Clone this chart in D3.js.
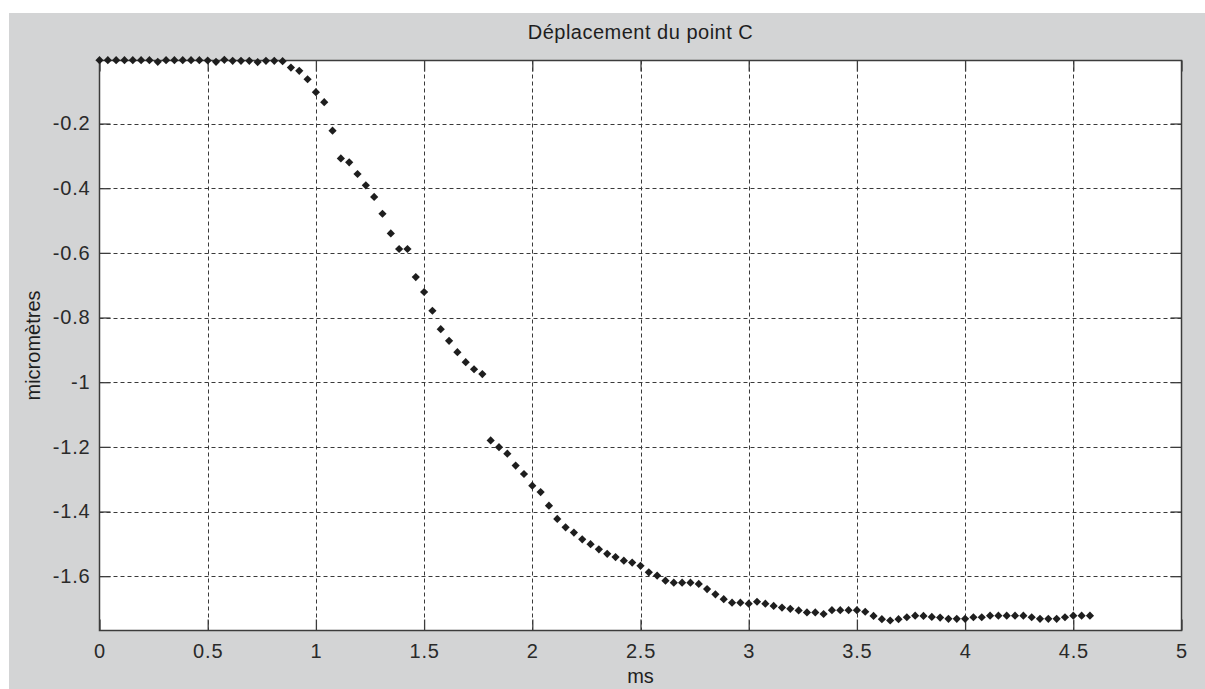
<!DOCTYPE html>
<html><head><meta charset="utf-8">
<script src="https://cdn.jsdelivr.net/npm/d3@7"></script>
<style>html,body{margin:0;padding:0;background:#fff;}svg{display:block;}</style>
</head><body>
<svg id="chart" width="1205" height="689"></svg>
<script>
// ---- data ----
const title = "Déplacement du point C";
const xLabel = "ms";
const yLabel = "micromètres";
const dt = 1 / 26; // sampling interval (ms)
const displacement = [
  -0.004,-0.004,-0.004,-0.004,-0.004,-0.004,-0.004,-0.009,-0.004,-0.004,
  -0.004,-0.004,-0.004,-0.005,-0.009,-0.003,-0.006,-0.006,-0.006,-0.010,
  -0.006,-0.006,-0.007,-0.027,-0.037,-0.063,-0.103,-0.134,-0.222,-0.308,
  -0.320,-0.356,-0.391,-0.427,-0.479,-0.540,-0.588,-0.588,-0.675,-0.721,
  -0.779,-0.836,-0.872,-0.907,-0.938,-0.960,-0.975,-1.180,-1.201,-1.221,
  -1.258,-1.284,-1.320,-1.340,-1.382,-1.423,-1.449,-1.465,-1.486,-1.501,
  -1.517,-1.531,-1.541,-1.552,-1.558,-1.568,-1.588,-1.598,-1.614,-1.620,
  -1.620,-1.620,-1.624,-1.640,-1.656,-1.671,-1.682,-1.682,-1.685,-1.679,
  -1.685,-1.692,-1.697,-1.701,-1.706,-1.712,-1.712,-1.717,-1.705,-1.705,
  -1.705,-1.705,-1.710,-1.723,-1.733,-1.737,-1.733,-1.727,-1.722,-1.723,
  -1.726,-1.728,-1.732,-1.732,-1.732,-1.727,-1.727,-1.722,-1.722,-1.722,
  -1.722,-1.722,-1.727,-1.732,-1.732,-1.732,-1.727,-1.722,-1.722,-1.722
];
const xTicks = [0, 0.5, 1, 1.5, 2, 2.5, 3, 3.5, 4, 4.5, 5];
const xTickLabels = ["0","0.5","1","1.5","2","2.5","3","3.5","4","4.5","5"];
const yTicks = [-1.6, -1.4, -1.2, -1, -0.8, -0.6, -0.4, -0.2];
const yTickLabels = ["-1.6","-1.4","-1.2","-1","-0.8","-0.6","-0.4","-0.2"];
const xDomain = [0, 5];
const yDomain = [-1.768, -0.005];

const points = displacement.map((v, i) => ({t: i * dt, v}));

// ---- layout ----
const svg = d3.select("#chart");
const L = 99.5, R = 1181.5, T = 60.5, B = 630.5;
const x = d3.scaleLinear().domain(xDomain).range([L, R]);
const y = d3.scaleLinear().domain(yDomain).range([B, T]);
const font = "'Liberation Sans', Arial, sans-serif";
const axisCol = "#3c3c3c";

svg.append("rect").attr("x", 9).attr("y", 13).attr("width", 1196).attr("height", 676).attr("fill", "#d3d4d5");
svg.append("rect").attr("x", L).attr("y", T).attr("width", R - L).attr("height", B - T).attr("fill", "#fff");

// gridlines
const grid = svg.append("g").attr("stroke", "#3a3a3a").attr("stroke-width", 1).attr("stroke-dasharray", "4,3");
grid.selectAll("line.gx").data(xTicks.filter(d => d > xDomain[0] && d < xDomain[1])).join("line")
  .attr("x1", d => Math.round(x(d)) + 0.5).attr("x2", d => Math.round(x(d)) + 0.5)
  .attr("y1", T).attr("y2", B);
grid.selectAll("line.gy").data(yTicks).join("line")
  .attr("y1", d => Math.round(y(d)) + 0.5).attr("y2", d => Math.round(y(d)) + 0.5)
  .attr("x1", L).attr("x2", R);

// axes with inward ticks (bottom/left labelled, top/right mirrored)
const tl = 11;
const axB = d3.axisBottom(x).tickValues(xTicks).tickSize(-tl).tickPadding(13).tickFormat((d, i) => xTickLabels[i]);
const axT = d3.axisTop(x).tickValues(xTicks).tickSize(-tl).tickFormat("");
const axL = d3.axisLeft(y).tickValues(yTicks).tickSize(-tl).tickPadding(9).tickFormat((d, i) => yTickLabels[i]);
const axR = d3.axisRight(y).tickValues(yTicks).tickSize(-tl).tickFormat("");

function style(g) {
  g.selectAll("path.domain").remove();
  g.selectAll("line").attr("stroke", axisCol).attr("stroke-width", 1.3);
  g.selectAll("text").attr("fill", "#2a2a2a").style("font-family", font).style("font-size", "20px")
    .style("letter-spacing", "0.8px");
}
svg.append("g").attr("transform", `translate(0,${B})`).call(axB).call(style);
svg.append("g").attr("transform", `translate(0,${T})`).call(axT).call(style);
svg.append("g").attr("transform", `translate(${L},0)`).call(axL).call(style);
svg.append("g").attr("transform", `translate(${R},0)`).call(axR).call(style);

// box
svg.append("rect").attr("x", L).attr("y", T).attr("width", R - L).attr("height", B - T)
  .attr("fill", "none").attr("stroke", axisCol).attr("stroke-width", 1.5);

// markers
const d = 4.1;
svg.append("g").attr("fill", "#1e1e1e").selectAll("path").data(points).join("path")
  .attr("d", p => {
    const cx = x(p.t), cy = y(p.v);
    return `M${cx},${cy - d}L${cx + d},${cy}L${cx},${cy + d}L${cx - d},${cy}Z`;
  });

// texts
svg.append("text").attr("x", (L + R) / 2).attr("y", 39).attr("text-anchor", "middle")
  .style("font-family", font).style("font-size", "20px").style("letter-spacing", "0.5px")
  .attr("fill", "#1e1e1e").text(title);
svg.append("text").attr("x", (L + R) / 2).attr("y", 683).attr("text-anchor", "middle")
  .style("font-family", font).style("font-size", "20px").attr("fill", "#1e1e1e").text(xLabel);
svg.append("text").attr("transform", `translate(40,${(T + B) / 2}) rotate(-90)`).attr("text-anchor", "middle")
  .style("font-family", font).style("font-size", "20px").attr("fill", "#1e1e1e").text(yLabel);
</script>
</body></html>
